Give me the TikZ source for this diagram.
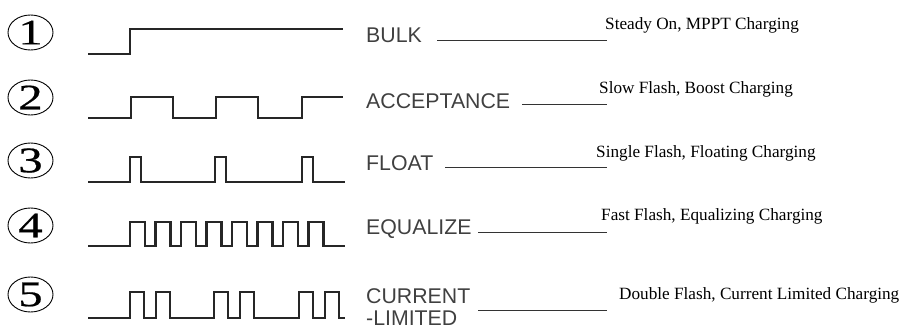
\documentclass[tikz,border=0pt]{standalone}
\usepackage{fontspec}
\setmainfont{Liberation Serif}
\newfontfamily\labelfont{Liberation Sans}
\newfontfamily\digitfont[FakeStretch=1.35, FakeBold=0.6]{Liberation Serif}
\usetikzlibrary{shapes.geometric}

\begin{document}
\begin{tikzpicture}[x=1pt, y=-1pt,
            wave/.style={line width=2.1pt, black!85},
            numcirc/.style={draw, ellipse, line width=0.9pt, minimum width=45pt, minimum height=35pt, inner sep=0pt, font=\digitfont\fontsize{36}{36}\selectfont},
            mode/.style={anchor=base west, inner sep=0pt, text=black!75, font=\labelfont\fontsize{21.3}{23}\selectfont},
            leader/.style={line width=0.9pt, black!80},
            desc/.style={anchor=base west, inner sep=0pt, font=\fontsize{17.2}{20}\selectfont}]
            \useasboundingbox (0, 0) rectangle (901, 329);
            \foreach \n/\y in {1/32.5, 2/97.5, 3/160.5, 4/225.5, 5/294.5}
                \node[numcirc] (n\n) at (30.5, \y) {\n};
            \draw[wave] (88, 54) -- (130, 54) -- (130, 29) -- (343, 29);
            \draw[wave] (88, 118) foreach \x in {131, 216} { -- (\x, 118) -- (\x, 97) -- (\x+42, 97) -- (\x+42, 118) } -- (302, 118) -- (302, 97) -- (343, 97);
            \draw[wave] (88, 182) foreach \x in {130, 215, 302} { -- (\x, 182) -- (\x, 157) -- (\x+11, 157) -- (\x+11, 182) } -- (345, 182);
            \draw[wave] (88, 246) foreach \i in {0,...,7} { -- (130+25.5*\i, 246) -- ++(0, -24) -- ++(15, 0) -- ++(0, 24) } -- (345, 246);
            \draw[wave] (88, 318) foreach \x in {130, 214, 299} { -- (\x, 318) -- ++(0, -26) -- ++(14, 0) -- ++(0, 26) -- ++(12, 0) -- ++(0, -26) -- ++(14, 0) -- ++(0, 26) } -- (345, 318);
            \node[mode] (bulk) at (366, 43) {BULK};
            \node[mode] (accept) at (366, 108) {ACCEPTANCE};
            \node[mode] (float) at (366, 170) {FLOAT};
            \node[mode] (equal) at (366, 234) {EQUALIZE};
            \node[mode] (curr) at (366, 303) {CURRENT};
            \node[mode] (lim) at (366, 325) {-LIMITED};
            \node[desc] (d1) at (605, 30) {Steady On, MPPT Charging};
            \node[desc] (d2) at (599, 93) {Slow Flash, Boost Charging};
            \node[desc] (d3) at (596, 157) {Single Flash, Floating Charging};
            \node[desc] (d4) at (601, 220) {Fast Flash, Equalizing Charging};
            \node[desc] (d5) at (619, 299) {Double Flash, Current Limited Charging};
            \coordinate (s1) at (437, 40);
            \coordinate (e1) at (607, 40);
            \coordinate (s2) at (522, 104);
            \coordinate (e2) at (607, 104);
            \coordinate (s3) at (445, 167);
            \coordinate (e3) at (607, 167);
            \coordinate (s4) at (478, 232);
            \coordinate (e4) at (607, 232);
            \coordinate (s5) at (478, 310);
            \coordinate (e5) at (607, 310);
            \foreach \k in {1,...,5}
                \draw[leader] (s\k) -- (e\k);
        \end{tikzpicture}
\end{document}
